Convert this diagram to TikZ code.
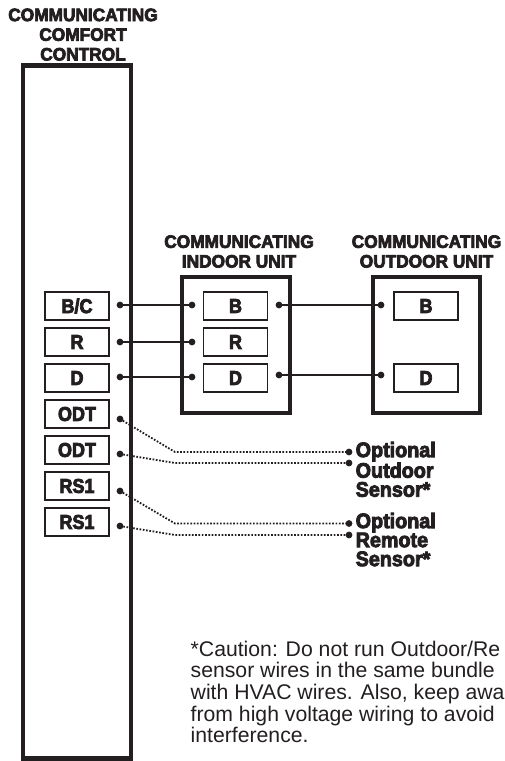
\documentclass[tikz,border=0pt]{standalone}
\usepackage{fontspec}
\setmainfont{Liberation Sans}
\newfontfamily\blk[FakeBold=4,FakeStretch=0.96]{Liberation Sans Bold}
\newfontfamily\blko[FakeBold=4,FakeStretch=0.94]{Liberation Sans Bold}
\newfontfamily\blkc[FakeBold=4,FakeStretch=0.9]{Liberation Sans Bold}
\definecolor{ink}{HTML}{231F20}
\tikzset{
  x=1pt,y=-1pt,
  frame/.style={draw=ink,line width=4.5pt,fill=white,inner sep=0,minimum size=0},
  term/.style={draw=ink,line width=1.7pt,fill=white,inner sep=0,text=ink,font=\blkc\fontsize{20}{20}\selectfont,minimum width=64pt,minimum height=28pt},
  dot/.style={circle,fill=ink,inner sep=0,minimum size=6.8pt},
  wire/.style={draw=ink,line width=2pt},
  dots/.style={draw=ink,line width=1.8pt,dash pattern=on 1.7pt off 1.6pt},
  title/.style={text=ink,font=\blk\fontsize{18}{19.7}\selectfont,align=center,inner sep=0},
  opt/.style={text=ink,font=\blko\fontsize{21}{19}\selectfont,align=left,inner sep=0,anchor=north west},
  note/.style={text=ink,font=\fontsize{21.2}{21.7}\selectfont,align=left,inner sep=0,anchor=north west}
}
\begin{document}
\begin{tikzpicture}
\useasboundingbox (0,0) rectangle (505,761);
\fill[white] (0,0) rectangle (505,761);
% frames
\coordinate (mainTL) at (23,65.5); \coordinate (mainBR) at (131,758.5);
\coordinate (inTL) at (182,277); \coordinate (inBR) at (290,413);
\coordinate (outTL) at (373,277); \coordinate (outBR) at (480,413);
\draw[frame] (mainTL) rectangle (mainBR);
\draw[frame] (inTL) rectangle (inBR);
\draw[frame] (outTL) rectangle (outBR);
% titles
\node[title] (t1) at (83,34.6) {COMMUNICATING\\COMFORT\\CONTROL};
\node[title] (t2) at (239,251.5) {COMMUNICATING\\INDOOR UNIT};
\node[title] (t3) at (426.5,251.5) {COMMUNICATING\\OUTDOOR UNIT};
% terminals
\node[term] (cBC) at (77,306) {B/C};
\node[term] (cR) at (77,342) {R};
\node[term] (cD) at (77,378) {D};
\node[term] (cO1) at (77,414) {ODT};
\node[term] (cO2) at (77,450) {ODT};
\node[term] (cR1) at (77,486) {RS1};
\node[term] (cR2) at (77,522) {RS1};
\node[term] (iB) at (235.5,306) {B};
\node[term] (iR) at (235.5,342) {R};
\node[term] (iD) at (235.5,378) {D};
\node[term] (oB) at (426,306) {B};
\node[term] (oD) at (426,378) {D};
% dots
\node[dot] (d1) at (120,305) {};
\node[dot] (d2) at (120,342) {};
\node[dot] (d3) at (120,377) {};
\node[dot] (d4) at (120,419) {};
\node[dot] (d5) at (120,454) {};
\node[dot] (d6) at (120,491) {};
\node[dot] (d7) at (120,526) {};
\node[dot] (e1) at (192,305) {};
\node[dot] (e2) at (192,342) {};
\node[dot] (e3) at (192,377) {};
\node[dot] (f1) at (279,305) {};
\node[dot] (f3) at (279,375) {};
\node[dot] (g1) at (381,305) {};
\node[dot] (g3) at (381,375) {};
\node[dot] (s1) at (349,452) {};
\node[dot] (s2) at (349,463) {};
\node[dot] (s3) at (349,523.5) {};
\node[dot] (s4) at (349,535) {};
% wires
\draw[wire] (d1.center) -- (e1.center);
\draw[wire] (d2.center) -- (e2.center);
\draw[wire] (d3.center) -- (e3.center);
\draw[wire] (f1.center) -- (g1.center);
\draw[wire] (f3.center) -- (g3.center);
% sensor wires
\draw[dots] (d4.center) -- (175,452) -- (s1.center);
\draw[dots] (d5.center) -- (175,463) -- (s2.center);
\draw[dots] (d6.center) -- (175,523.5) -- (s3.center);
\draw[dots] (d7.center) -- (175,535) -- (s4.center);
% labels
\node[opt] (l1) at (355.5,441.7) {Optional\\Outdoor\\Sensor*};
\node[opt] (l2) at (355.5,512.7) {Optional\\Remote\\Sensor*};
\node[note] (n) at (190.5,640.5) {*Caution: Do not run Outdoor/Re\\sensor wires in the same bundle\\with HVAC wires. Also, keep awa\\from high voltage wiring to avoid\\interference.};
\end{tikzpicture}
\end{document}
